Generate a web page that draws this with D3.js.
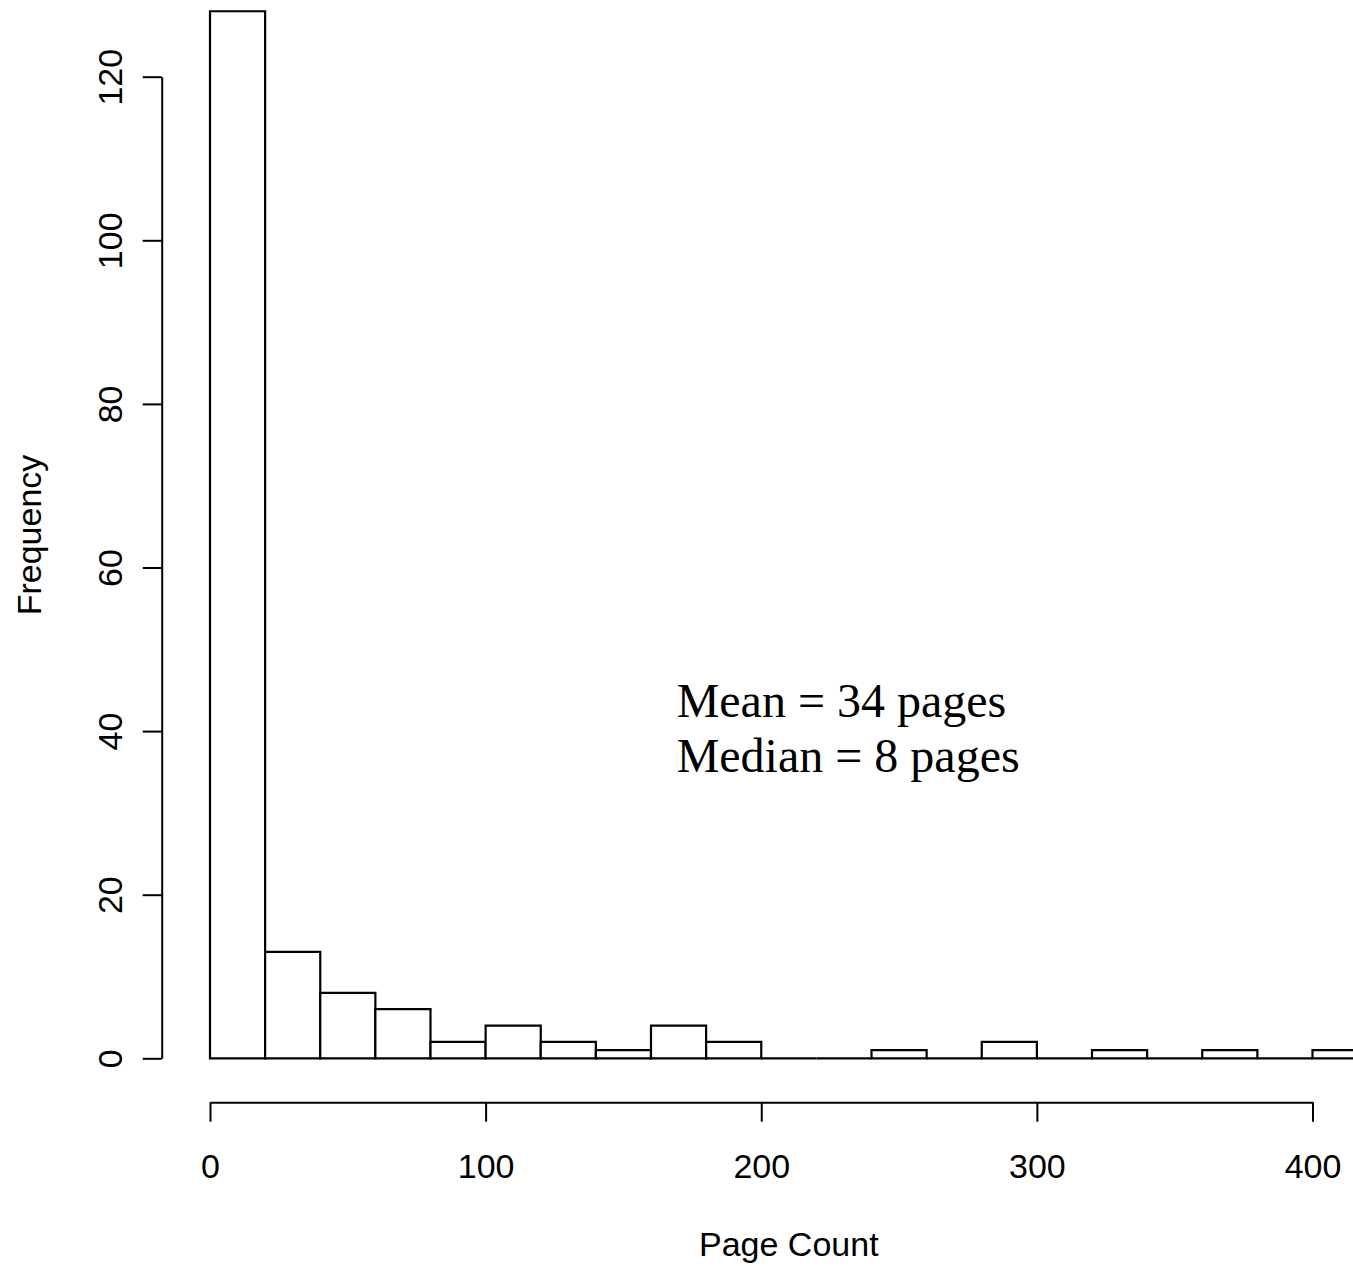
<!DOCTYPE html>
<html>
<head>
<meta charset="utf-8">
<script src="https://cdn.jsdelivr.net/npm/d3@7"></script>
<style>
  html, body { margin: 0; padding: 0; background: #fff; overflow: hidden; }
  svg { display: block; }
  text { fill: #000; }
</style>
</head>
<body>
<svg id="chart" width="1353" height="1266"></svg>
<script>
// Histogram of page counts, bins 20 pages wide
const binStarts = [0, 20, 40, 60, 80, 100, 120, 140, 160, 180, 200, 220, 240, 260, 280, 300, 320, 340, 360, 380, 400];
const binWidth = 20;
const counts = [128, 13, 8, 6, 2, 4, 2, 1, 4, 2, 0, 0, 1, 0, 2, 0, 1, 0, 1, 0, 1];

const xTicks = [0, 100, 200, 300, 400];
const yTicks = [0, 20, 40, 60, 80, 100, 120];

const xLabel = "Page Count";
const yLabel = "Frequency";
const noteLines = ["Mean = 34 pages", "Median = 8 pages"];
const noteX = 169.3;          // page-count position of the note
const noteY = [41.76, 35.04]; // frequency position of each note baseline

const svg = d3.select("#chart");
const sans = "'Liberation Sans', Arial, Helvetica, sans-serif";
const serif = "'Liberation Serif', 'Times New Roman', Times, serif";

const x = d3.scaleLinear().domain([0, 400]).range([210, 1312.5]);
const y = d3.scaleLinear().domain([0, 120]).range([1058.3, 76.7]);

// bars (paths so empty bins still show as a flat line)
svg.append("g")
  .selectAll("path")
  .data(binStarts.map((s, i) => ({ x0: s, x1: s + binWidth, n: counts[i] })))
  .join("path")
  .attr("d", d => {
    const a = x(d.x0), b = x(d.x1), y0 = y(0), y1 = y(d.n);
    return `M${a},${y0}V${y1}H${b}V${y0}Z`;
  })
  .attr("fill", "#fff")
  .attr("stroke", "#000")
  .attr("stroke-width", 2.2)
  .attr("stroke-linejoin", "miter");

// x axis, set below the bars
const gx = svg.append("g")
  .attr("transform", "translate(0,1102.3)")
  .call(d3.axisBottom(x).tickValues(xTicks).tickSize(19.4).tickSizeOuter(0).tickFormat(d3.format("d")));
gx.select(".domain").attr("stroke", "#000").attr("stroke-width", 2);
gx.selectAll(".tick line").attr("stroke", "#000").attr("stroke-width", 2);
gx.selectAll(".tick text")
  .attr("y", 75.7).attr("dy", 0)
  .attr("font-family", sans).attr("font-size", 34)
  .attr("fill", "#000");

// y axis, labels parallel to the axis
const gy = svg.append("g")
  .attr("transform", "translate(161.7,0)")
  .call(d3.axisLeft(y).tickValues(yTicks).tickSize(19).tickSizeOuter(0).tickFormat(d3.format("d")));
gy.select(".domain").attr("stroke", "#000").attr("stroke-width", 2);
gy.selectAll(".tick line").attr("stroke", "#000").attr("stroke-width", 2);
gy.selectAll(".tick text")
  .attr("x", 0).attr("y", 0).attr("dy", 0)
  .attr("transform", "translate(-39.7,0) rotate(-90)")
  .attr("text-anchor", "middle")
  .attr("font-family", sans).attr("font-size", 34)
  .attr("fill", "#000");

// axis titles
svg.append("text")
  .attr("x", 788.8).attr("y", 1256)
  .attr("text-anchor", "middle")
  .attr("font-family", sans).attr("font-size", 34)
  .text(xLabel);

svg.append("text")
  .attr("transform", "translate(41,535) rotate(-90)")
  .attr("text-anchor", "middle")
  .attr("font-family", sans).attr("font-size", 34)
  .text(yLabel);

// summary note
svg.append("g")
  .selectAll("text")
  .data(noteLines)
  .join("text")
  .attr("x", x(noteX))
  .attr("y", (d, i) => y(noteY[i]))
  .attr("font-family", serif).attr("font-size", 48)
  .text(d => d);
</script>
</body>
</html>
